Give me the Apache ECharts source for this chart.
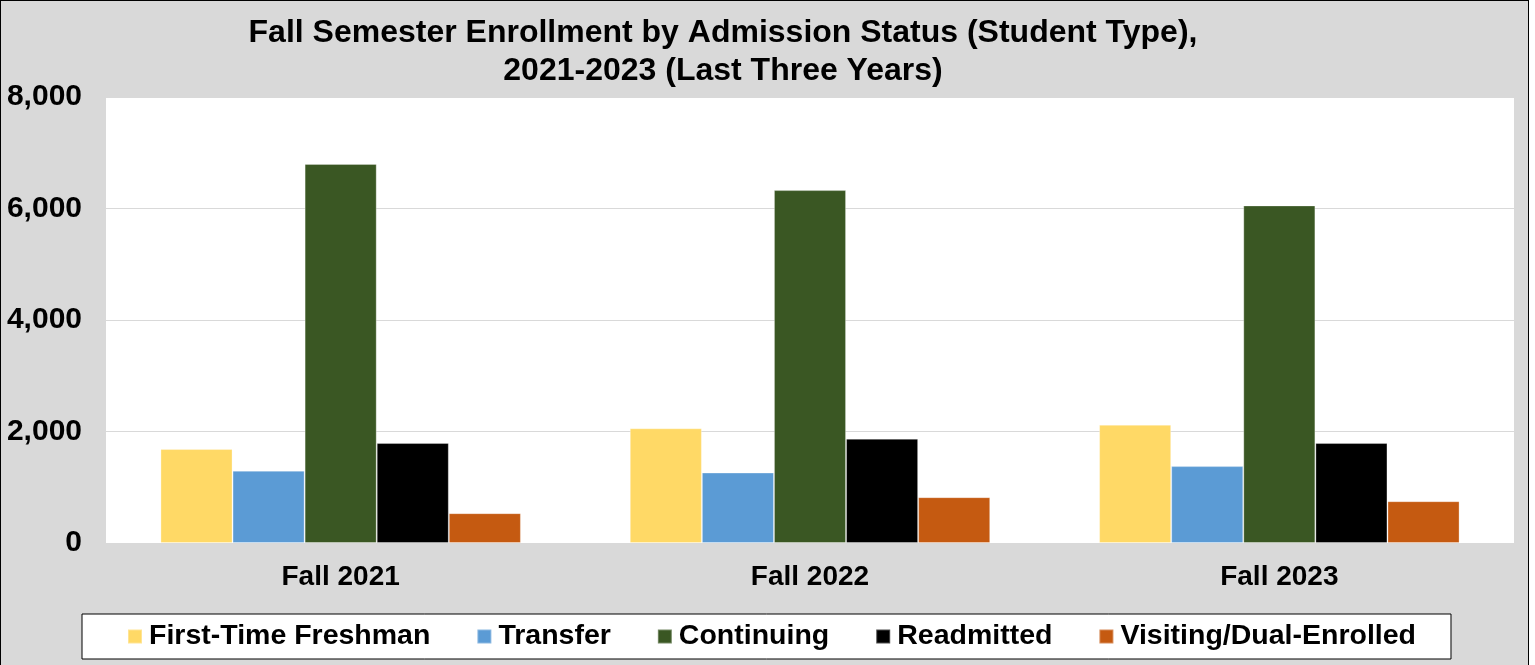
<!DOCTYPE html>
<html>
<head>
<meta charset="utf-8">
<script src="https://cdn.jsdelivr.net/npm/echarts@6/dist/echarts.min.js"></script>
<style>
  html, body { margin: 0; padding: 0; background: #ffffff; }
  .frame {
    position: absolute; left: 0; top: 0;
    width: 1529px; height: 680px;
    box-sizing: border-box;
    border: 1px solid #000;
    background: #d9d9d9;
  }
  #chart { width: 1527px; height: 678px; }
</style>
</head>
<body>
<div class="frame"><div id="chart"></div></div>
<script>
// data
const categories = ["Fall 2021", "Fall 2022", "Fall 2023"];
const firstTimeFreshman = [1685, 2058, 2122];
const transfer = [1297, 1264, 1379];
const continuing = [6800, 6330, 6055];
const readmitted = [1793, 1871, 1793];
const visitingDual = [535, 822, 750];
const yTicks = [0, 2000, 4000, 6000, 8000];

const fontFam = '"Liberation Sans", Arial, sans-serif';

function bar(name, data, color) {
  return {
    name: name,
    type: "bar",
    data: data,
    barGap: "0%",
    barCategoryGap: "23.2%",
    itemStyle: {
      color: color,
      borderColor: "rgba(255,255,255,0.3)",
      borderWidth: 1,
    },
  };
}

const myChart = echarts.init(document.getElementById("chart"));
const option = {
  animation: false,
  backgroundColor: "#d9d9d9",
  title: {
    text: "Fall Semester Enrollment by Admission Status (Student Type),\n2021-2023 (Last Three Years)",
    left: 717,
    top: 8,
    textAlign: "center",
    textStyle: {
      fontFamily: fontFam,
      fontWeight: "bold",
      fontSize: 32,
      lineHeight: 38,
      color: "#000",
    },
  },
  grid: {
    left: 105,
    top: 96,
    width: 1408,
    height: 446,
    show: true,
    backgroundColor: "#ffffff",
    borderWidth: 0,
  },
  legend: {
    left: 81,
    top: 613,
    itemWidth: 14,
    itemHeight: 14,
    itemGap: 46,
    icon: "rect",
    padding: [8, 35, 8, 45],
    backgroundColor: "#ffffff",
    borderColor: "#000",
    borderWidth: 1,
    textStyle: {
      fontFamily: fontFam,
      fontWeight: "bold",
      fontSize: 28.5,
      color: "#000",
      padding: [0, 0, 0, 2],
    },
  },
  xAxis: {
    type: "category",
    data: categories,
    axisLine: { show: false },
    axisTick: { show: false },
    axisLabel: {
      margin: 20,
      fontFamily: fontFam,
      fontWeight: "bold",
      fontSize: 28,
      color: "#000",
    },
  },
  yAxis: {
    type: "value",
    min: yTicks[0],
    max: yTicks[yTicks.length - 1],
    interval: 2000,
    axisLine: { show: false },
    axisTick: { show: false },
    splitLine: { lineStyle: { color: "#d9d9d9", width: 1 } },
    axisLabel: {
      margin: 24,
      fontFamily: fontFam,
      fontWeight: "bold",
      fontSize: 30,
      color: "#000",
      formatter: function (v) {
        return v.toLocaleString("en-US");
      },
    },
  },
  series: [
    bar("First-Time Freshman", firstTimeFreshman, "#FFD966"),
    bar("Transfer", transfer, "#5B9BD5"),
    bar("Continuing", continuing, "#3A5723"),
    bar("Readmitted", readmitted, "#000000"),
    bar("Visiting/Dual-Enrolled", visitingDual, "#C55A11"),
  ],
};
myChart.setOption(option);
</script>
</body>
</html>
